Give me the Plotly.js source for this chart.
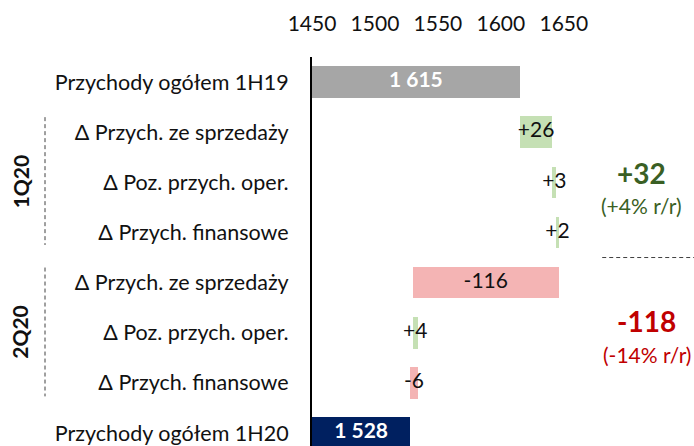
<!DOCTYPE html>
<html>
<head>
<meta charset="utf-8">
<script src="https://cdn.plot.ly/plotly-3.0.1.min.js"></script>
<style>html,body{margin:0;padding:0;background:#fff;}#chart{width:694px;height:446px;}</style>
</head>
<body>
<div id="chart"></div>
<script>
// ---- data ----
const categories = ['Przychody ogółem 1H19','Δ Przych. ze sprzedaży','Δ Poz. przych. oper.','Δ Przych. finansowe','Δ Przych. ze sprzedaży','Δ Poz. przych. oper.','Δ Przych. finansowe','Przychody ogółem 1H20'];
const startTotal = 1615;
const deltas = [26, 3, 2, -116, 4, -6];
const endTotal = 1528;
const totalLabels = ['1 615', '1 528'];
const deltaLabels = ['+26', '+3', '+2', '-116', '+4', '-6'];
const xTicks = [1450, 1500, 1550, 1600, 1650];
const groupLabels = ['1Q20', '2Q20'];
const summaryValues = ['+32', '-118'];
const summaryPct = ['(+4% r/r)', '(-14% r/r)'];

// ---- styles ----
const L = 312;
const xMin = 1450, xMax = 1753.4;
const FONT = 'Lato, "Open Sans", sans-serif';
const cTotal1 = '#A6A6A6', cTotal2 = '#002060', cUp = '#C5E0B4', cDown = '#F4B4B4';

// build waterfall
const idx = categories.map((_, i) => i);
const barLen = [], barBase = [], barColor = [];
barLen.push(startTotal); barBase.push(0); barColor.push(cTotal1);
let cum = startTotal;
const deltaMid = [];
deltas.forEach(d => {
  barLen.push(Math.abs(d));
  barBase.push(d >= 0 ? cum : cum + d);
  barColor.push(d >= 0 ? cUp : cDown);
  deltaMid.push(cum + d / 2);
  cum += d;
});
barLen.push(endTotal); barBase.push(0); barColor.push(cTotal2);

const traces = [
  {
    type: 'bar', orientation: 'h', y: idx, x: barLen, base: barBase,
    width: 0.63, marker: {color: barColor, line: {width: 0}},
    hoverinfo: 'skip', showlegend: false
  },
  {
    type: 'scatter', mode: 'text', showlegend: false, hoverinfo: 'skip',
    x: [(xMin + startTotal) / 2, (xMin + endTotal) / 2], y: [0, categories.length - 1],
    text: totalLabels, textposition: 'middle center',
    textfont: {family: FONT, size: 21, color: '#ffffff', weight: 'bold'}
  },
  {
    type: 'scatter', mode: 'text', showlegend: false, hoverinfo: 'skip',
    x: deltaMid, y: deltas.map((_, i) => i + 1),
    text: deltaLabels, textposition: 'middle center',
    textfont: {family: FONT, size: 21, color: '#111111'}
  }
];

const green = '#3A5F24', red = '#C00000';
const dashStyle = {color: '#404040', width: 1, dash: '4px,3px'};
const W = 694 - L;
const layout = {
  width: 694, height: 446,
  margin: {l: L, r: 0, t: 57, b: 0, pad: 0},
  paper_bgcolor: '#ffffff', plot_bgcolor: '#ffffff',
  font: {family: FONT, size: 21, color: '#111111'},
  bargap: 0,
  xaxis: {
    side: 'top', range: [xMin, xMax], tickvals: xTicks,
    showgrid: false, zeroline: false, showline: false, ticks: '',
    tickfont: {family: FONT, size: 21, color: '#111111'},
    ticklabelstandoff: 21, fixedrange: true
  },
  yaxis: {
    range: [7.26, -0.5], tickvals: idx, ticktext: categories,
    showgrid: false, zeroline: false, showline: true, linecolor: '#000000', linewidth: 2,
    ticks: '', ticklabelstandoff: 17,
    tickfont: {family: FONT, size: 21.5, color: '#111111'}, fixedrange: true
  },
  shapes: [
    {type: 'line', xref: 'paper', yref: 'y', x0: (45 - L) / W, x1: (45 - L) / W, y0: 0.7, y1: 3.25, line: dashStyle},
    {type: 'line', xref: 'paper', yref: 'y', x0: (45 - L) / W, x1: (45 - L) / W, y0: 3.7, y1: 6.27, line: dashStyle},
    {type: 'line', xref: 'x', yref: 'y', x0: 1680.5, x1: xMax, y0: 3.5, y1: 3.5, line: dashStyle}
  ],
  annotations: [
    {xref: 'paper', yref: 'y', x: (20 - L) / W, y: 1.98, text: groupLabels[0], textangle: -90,
     showarrow: false, xanchor: 'center', yanchor: 'middle', font: {family: FONT, size: 21, color: '#111111', weight: 'bold'}},
    {xref: 'paper', yref: 'y', x: (20 - L) / W, y: 4.98, text: groupLabels[1], textangle: -90,
     showarrow: false, xanchor: 'center', yanchor: 'middle', font: {family: FONT, size: 21, color: '#111111', weight: 'bold'}},
    {xref: 'x', yref: 'y', x: 1711.5, y: 1.81, text: summaryValues[0], showarrow: false,
     font: {family: FONT, size: 28, color: green, weight: 'bold'}},
    {xref: 'x', yref: 'y', x: 1711.5, y: 2.47, text: summaryPct[0], showarrow: false,
     font: {family: FONT, size: 21, color: green}},
    {xref: 'x', yref: 'y', x: 1716, y: 4.76, text: summaryValues[1], showarrow: false,
     font: {family: FONT, size: 28, color: red, weight: 'bold'}},
    {xref: 'x', yref: 'y', x: 1716, y: 5.44, text: summaryPct[1], showarrow: false,
     font: {family: FONT, size: 21, color: red}}
  ]
};

Plotly.newPlot('chart', traces, layout, {displayModeBar: false, staticPlot: true});
</script>
</body>
</html>
